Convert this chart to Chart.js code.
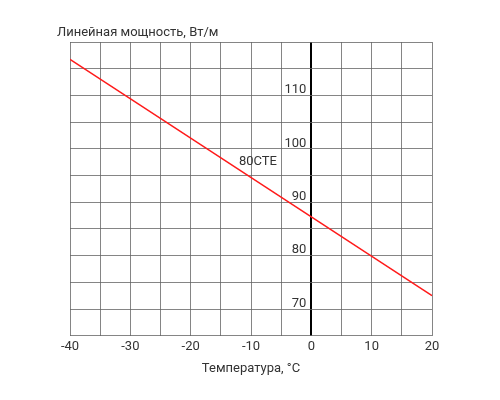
<!DOCTYPE html>
<html>
<head>
<meta charset="utf-8">
<script src="https://cdn.jsdelivr.net/npm/chart.js@4"></script>
<style>
  body { margin: 0; background: #fff; }
</style>
</head>
<body>
<canvas id="chart" width="500" height="400"></canvas>
<script>
const temperaturas = [-40, 20];
const potencia = [116.75, 72.5];
const etiquetasY = [70, 80, 90, 100, 110];
const nombreSerie = '80CTE';
const posEtiqueta = { x: -12, y: 97 };

const fuente = 'Roboto, "DejaVu Sans", sans-serif';

const pluginTextos = {
    id: 'textos',
    afterDraw(chart) {
        const { ctx, scales: { x, y } } = chart;
        ctx.save();
        ctx.fillStyle = '#333';
        ctx.font = '13px ' + fuente;
        // etiquetas del eje Y junto a la linea del cero
        ctx.textAlign = 'right';
        ctx.textBaseline = 'bottom';
        etiquetasY.forEach(v => {
            ctx.fillText(String(v), x.getPixelForValue(0) - 5, y.getPixelForValue(v) + 1);
        });
        // nombre de la serie
        ctx.textAlign = 'left';
        ctx.textBaseline = 'alphabetic';
        ctx.fillText(nombreSerie, x.getPixelForValue(posEtiqueta.x), y.getPixelForValue(posEtiqueta.y));
        // titulo del eje Y
        ctx.fillText('Линейная мощность, Вт/м', 57, 36);
        ctx.restore();
    }
};

new Chart(document.getElementById('chart'), {
    type: 'scatter',
    data: {
        datasets: [{
            data: temperaturas.map((t, i) => ({ x: t, y: potencia[i] })),
            showLine: true,
            borderColor: '#ff1a1a',
            borderWidth: 1.5,
            pointRadius: 0
        }]
    },
    options: {
        responsive: false,
        animation: false,
        layout: { padding: { top: 42, left: 70, right: 68, bottom: 19 } },
        plugins: { legend: { display: false }, tooltip: { enabled: false } },
        scales: {
            x: {
                type: 'linear', min: -40, max: 20,
                ticks: {
                    stepSize: 5, color: '#333', font: { size: 13, family: fuente },
                    callback: v => v % 10 === 0 ? v : ''
                },
                grid: {
                    color: ctx => ctx.tick && ctx.tick.value === 0 ? '#000' : '#666',
                    lineWidth: ctx => ctx.tick && ctx.tick.value === 0 ? 2 : 0.8,
                    drawTicks: false
                },
                border: { display: false },
                title: { display: true, text: 'Температура, °C', color: '#333', font: { size: 13, family: fuente } }
            },
            y: {
                min: 65, max: 120,
                ticks: { stepSize: 5, display: false },
                grid: { color: '#666', lineWidth: 0.8, drawTicks: false },
                border: { display: false }
            }
        }
    },
    plugins: [pluginTextos]
});
</script>
</body>
</html>
